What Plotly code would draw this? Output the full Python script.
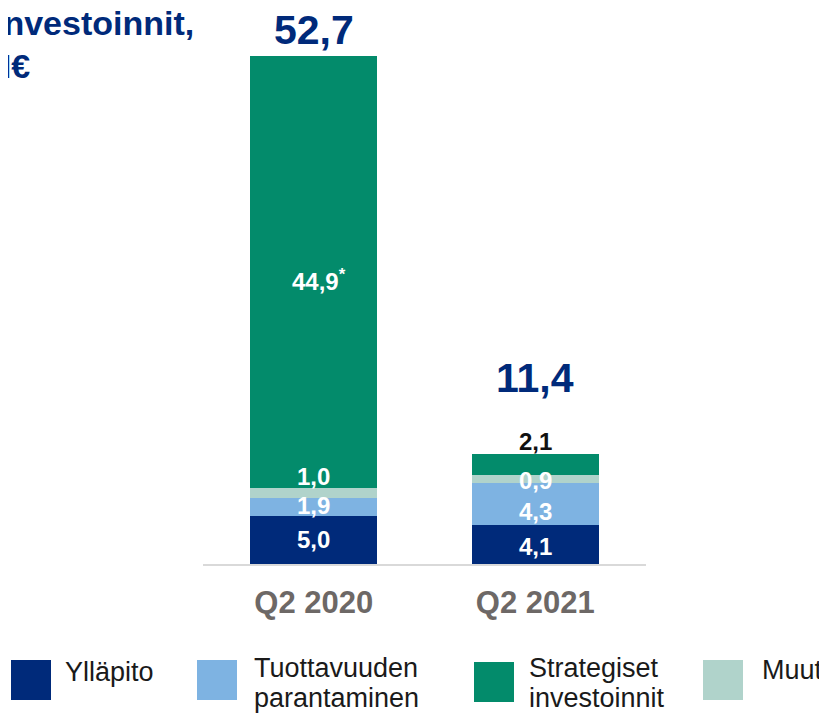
import plotly.graph_objects as go

# ---- data ----
categories = ["Q2 2020", "Q2 2021"]
series_names = ["Ylläpito", "Tuottavuuden parantaminen", "Muut", "Strategiset investoinnit"]
yllapito = [5.0, 4.1]
tuottavuus = [1.9, 4.3]
muut = [1.0, 0.9]
strategiset = [44.9, 2.1]
totals = [52.7, 11.4]
colors = {"Ylläpito": "#002A7A", "Tuottavuuden parantaminen": "#7EB3E2",
          "Muut": "#B0D3CB", "Strategiset investoinnit": "#038B6B"}
title_lines = ["Investoinnit,", "M€"]
legend_order = ["Ylläpito", "Tuottavuuden parantaminen", "Strategiset investoinnit", "Muut"]
legend_labels = {"Ylläpito": ["Ylläpito"],
                 "Tuottavuuden parantaminen": ["Tuottavuuden", "parantaminen"],
                 "Strategiset investoinnit": ["Strategiset", "investoinnit"],
                 "Muut": ["Muut"]}

FONT = "Liberation Sans, Arial, sans-serif"
NAVY = "#002A7A"

OFF = 8  # default page margin around the figure
W, H = 827 - OFF, 714 - OFF
# plot area in page pixels: x 203..646, y 35..564
ML = 203 - OFF
MR = W - (646 - OFF)
MT = 35 - OFF
MB = H - (564 - OFF)
PW, PH = W - ML - MR, H - MT - MB


def fmt(v):
    return f"{v:.1f}".replace(".", ",")


def px(x):  # page pixel -> paper
    return (x - OFF - ML) / PW


def py(y):
    return (H - MB - (y - OFF)) / PH


values = {"Ylläpito": yllapito, "Tuottavuuden parantaminen": tuottavuus,
          "Muut": muut, "Strategiset investoinnit": strategiset}

fig = go.Figure()
for name in series_names:
    fig.add_trace(go.Bar(x=categories, y=values[name], name=name,
                         marker=dict(color=colors[name], line=dict(width=0)),
                         width=0.573, showlegend=False, hoverinfo="skip"))

ann = []
for i, c in enumerate(categories):
    b1 = yllapito[i]
    b2 = b1 + tuottavuus[i]
    b3 = b2 + muut[i]
    lab_font = dict(family=FONT, size=24, color="white")
    ann.append(dict(x=c, y=b1 / 2, text=f"<b>{fmt(yllapito[i])}</b>", showarrow=False,
                    font=lab_font, yanchor="middle", yshift=-2 if i else 0))
    ann.append(dict(x=c, y=b1 + tuottavuus[i] / 2, text=f"<b>{fmt(tuottavuus[i])}</b>",
                    showarrow=False, font=lab_font, yanchor="middle",
                    yshift=-8 if i else 1))
    if i == 0:
        ann.append(dict(x=c, y=b3, text=f"<b>{fmt(muut[i])}</b>", showarrow=False,
                        font=lab_font, yanchor="middle", yshift=12))
        ann.append(dict(x=c, y=b3 + strategiset[i] / 2,
                        text=f"<b>{fmt(strategiset[i])}<sup>*</sup></b>", showarrow=False,
                        font=lab_font, yanchor="middle", yshift=-8, xshift=5))
    else:
        ann.append(dict(x=c, y=b2 + muut[i] / 2, text=f"<b>{fmt(muut[i])}</b>",
                        showarrow=False, font=lab_font, yanchor="middle", yshift=-2))
        ann.append(dict(x=c, y=b3 + strategiset[i], text=f"<b>{fmt(strategiset[i])}</b>",
                        showarrow=False, font=dict(family=FONT, size=24, color="#111111"),
                        yanchor="middle", yshift=13))
    ann.append(dict(x=c, y=totals[i], text=f"<b>{fmt(totals[i])}</b>", showarrow=False,
                    font=dict(family=FONT, size=41, color=NAVY), yanchor="middle",
                    yshift=27 if i == 0 else 76))

# title (cut off at the left edge, as in the source slide)
for t, cx, cy in zip(title_lines, [-8, -19], [23, 66]):
    ann.append(dict(xref="paper", yref="paper", x=px(cx), y=py(cy), text=f"<b>{t}</b>",
                    showarrow=False, xanchor="left", yanchor="middle",
                    font=dict(family=FONT, size=34, color=NAVY)))

# custom legend (page pixel positions)
shapes = []
leg_sq = {"Ylläpito": (11, 660), "Tuottavuuden parantaminen": (197, 660),
          "Strategiset investoinnit": (474, 662), "Muut": (703, 660)}
leg_tx = {"Ylläpito": (63, [672]), "Tuottavuuden parantaminen": (252, [668, 698]),
          "Strategiset investoinnit": (527, [668, 698]), "Muut": (760, [670])}
for name in legend_order:
    x0, y0 = leg_sq[name]
    shapes.append(dict(type="rect", xref="paper", yref="paper",
                       x0=px(x0), x1=px(x0 + 40), y0=py(y0), y1=py(y0 + 40),
                       fillcolor=colors[name], line=dict(width=0)))
    tx, tys = leg_tx[name]
    for line, ty in zip(legend_labels[name], tys):
        ann.append(dict(xref="paper", yref="paper", x=px(tx), y=py(ty), text=line,
                        showarrow=False, xanchor="left", yanchor="middle",
                        font=dict(family=FONT, size=27, color="#1A1A1A")))

fig.update_layout(
    width=W, height=H, margin=dict(l=ML, r=MR, t=MT, b=MB, pad=0),
    barmode="stack", plot_bgcolor="white", paper_bgcolor="white",
    annotations=ann, shapes=shapes, showlegend=False,
    xaxis=dict(type="category", range=[-0.5, 1.5], showline=True, linecolor="#D9D9D9",
               linewidth=2, showgrid=False, ticks="", zeroline=False,
               tickfont=dict(family=FONT, size=31, color="#6D6866"),
               ticklabelstandoff=10, tickprefix="<b>", ticksuffix="</b>"),
    yaxis=dict(range=[0, 55], visible=False, showgrid=False, zeroline=False),
)

fig.write_html("out.html")
